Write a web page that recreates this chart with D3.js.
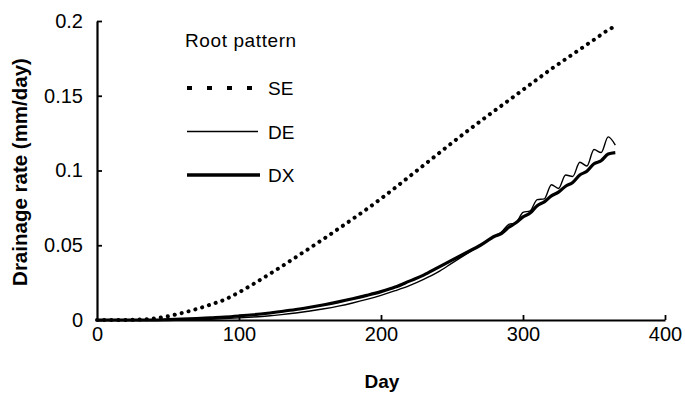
<!DOCTYPE html>
<html>
<head>
<meta charset="utf-8">
<script src="https://cdn.jsdelivr.net/npm/d3@7"></script>
<style>
  body { margin: 0; background: #fff; }
  svg { display: block; font-family: "Liberation Sans", Arial, Helvetica, sans-serif; }
</style>
</head>
<body>
<div id="chart"></div>
<script>
// days of the simulation (finer steps near the end where the curves oscillate)
const days = [0, 10, 20, 30, 40, 50, 60, 70, 80, 90, 100, 110, 120, 130, 140, 150, 160, 170, 180, 190,
  200, 210, 220, 230, 240, 250, 260, 270, 280, 285, 290, 295, 300, 305, 310, 315, 320, 325, 330, 335,
  340, 345, 350, 355, 360, 365];

// drainage rate (mm/day)
const seValues = [0, 0, 0, 0.0003, 0.001, 0.0025, 0.0047, 0.0073, 0.0103, 0.0137, 0.0185, 0.024, 0.0298,
  0.0358, 0.042, 0.0482, 0.0545, 0.061, 0.0675, 0.0742, 0.0812, 0.0885, 0.096, 0.1035, 0.111, 0.1185,
  0.1258, 0.133, 0.14, 0.1435, 0.147, 0.1505, 0.154, 0.1575, 0.161, 0.1645, 0.168, 0.1712, 0.1745,
  0.1778, 0.181, 0.1843, 0.1875, 0.1908, 0.194, 0.1965];

const deValues = [0, 0, 0, 0, 0, 0, 0, 0.0002, 0.0005, 0.0009, 0.0014, 0.002, 0.0027, 0.0036, 0.0047,
  0.006, 0.0075, 0.0093, 0.0114, 0.0138, 0.0165, 0.0196, 0.023, 0.0272, 0.032, 0.038, 0.044, 0.05, 0.056,
  0.059, 0.064, 0.065, 0.072, 0.073, 0.0805, 0.081, 0.0905, 0.088, 0.097, 0.096, 0.1055, 0.103, 0.114,
  0.112, 0.1225, 0.117];

const dxValues = [0, 0, 0, 0, 0, 0.0003, 0.0006, 0.001, 0.0015, 0.002, 0.0027, 0.0035, 0.0045, 0.0057,
  0.007, 0.0085, 0.0102, 0.0121, 0.0142, 0.0165, 0.019, 0.022, 0.026, 0.03, 0.035, 0.04, 0.045, 0.05,
  0.056, 0.058, 0.062, 0.065, 0.069, 0.0715, 0.0765, 0.079, 0.083, 0.0855, 0.0895, 0.092, 0.097, 0.0995,
  0.1045, 0.1065, 0.111, 0.112];

const xTicks = [0, 100, 200, 300, 400];
const yTicks = [0, 0.05, 0.1, 0.15, 0.2];

const legendTitle = "Root pattern";
const seriesNames = ["SE", "DE", "DX"];

const width = 685;
const height = 393;

const svg = d3.select("#chart")
    .append("svg")
    .attr("width", width)
    .attr("height", height);

const x = d3.scaleLinear().domain([0, 400]).range([97, 665]);
const y = d3.scaleLinear().domain([0, 0.2]).range([320, 21]);

// axes -- ticks point inward, like the original
const yAxis = svg.append("g")
    .attr("transform", `translate(${x(0)},0)`)
    .call(d3.axisLeft(y)
        .tickValues(yTicks)
        .tickFormat(d => String(d))
        .tickSizeInner(-5)
        .tickSizeOuter(0)
        .tickPadding(14));

const xAxis = svg.append("g")
    .attr("transform", `translate(0,${y(0)})`)
    .call(d3.axisBottom(x)
        .tickValues(xTicks)
        .tickFormat(d => String(d))
        .tickSizeInner(-5)
        .tickSizeOuter(0)
        .tickPadding(7));

[xAxis, yAxis].forEach(g => {
    g.select(".domain").attr("stroke", "#000").attr("stroke-width", 2.2);
    g.selectAll(".tick line").attr("stroke", "#000").attr("stroke-width", 1.8);
    g.selectAll(".tick text")
        .attr("fill", "#000")
        .style("font-size", "20px");
});
xAxis.select(".tick line").remove(); // no tick drawn at the origin

// axis titles
svg.append("text")
    .attr("x", 382)
    .attr("y", 388)
    .attr("text-anchor", "middle")
    .style("font-size", "19px")
    .style("font-weight", "bold")
    .text("Day");

svg.append("text")
    .attr("transform", "translate(27,172) rotate(-90)")
    .attr("text-anchor", "middle")
    .style("font-size", "20.5px")
    .style("font-weight", "bold")
    .text("Drainage rate (mm/day)");

// series
const line = d3.line()
    .x(d => x(d[0]))
    .y(d => y(d[1]))
    .curve(d3.curveMonotoneX);

const series = [
    { name: seriesNames[0], values: seValues, width: 4, dash: "0.1,7", cap: "round" },
    { name: seriesNames[1], values: deValues, width: 1.4, dash: null, cap: "butt" },
    { name: seriesNames[2], values: dxValues, width: 3.2, dash: null, cap: "butt" }
];

svg.selectAll("path.series")
    .data(series)
    .join("path")
    .attr("class", "series")
    .attr("fill", "none")
    .attr("stroke", "#000")
    .attr("stroke-width", d => d.width)
    .attr("stroke-dasharray", d => d.dash)
    .attr("stroke-linecap", d => d.cap)
    .attr("stroke-linejoin", "round")
    .attr("d", d => line(days.map((day, i) => [day, d.values[i]])));

// legend
const legend = svg.append("g");

legend.append("text")
    .attr("x", 185)
    .attr("y", 47)
    .style("font-size", "19px")
    .style("letter-spacing", "0.6px")
    .text(legendTitle);

const legendRows = [
    { name: seriesNames[0], y: 88, width: 4, dash: "5,15", x2: 253 },
    { name: seriesNames[1], y: 131.5, width: 1.4, dash: null, x2: 258 },
    { name: seriesNames[2], y: 175, width: 3.4, dash: null, x2: 260 }
];

legend.selectAll("line")
    .data(legendRows)
    .join("line")
    .attr("x1", 187)
    .attr("x2", d => d.x2)
    .attr("y1", d => d.y)
    .attr("y2", d => d.y)
    .attr("stroke", "#000")
    .attr("stroke-width", d => d.width)
    .attr("stroke-dasharray", d => d.dash);

legend.selectAll("text.item")
    .data(legendRows)
    .join("text")
    .attr("class", "item")
    .attr("x", 268)
    .attr("y", d => d.y + 7)
    .style("font-size", "19px")
    .text(d => d.name);
</script>
</body>
</html>
